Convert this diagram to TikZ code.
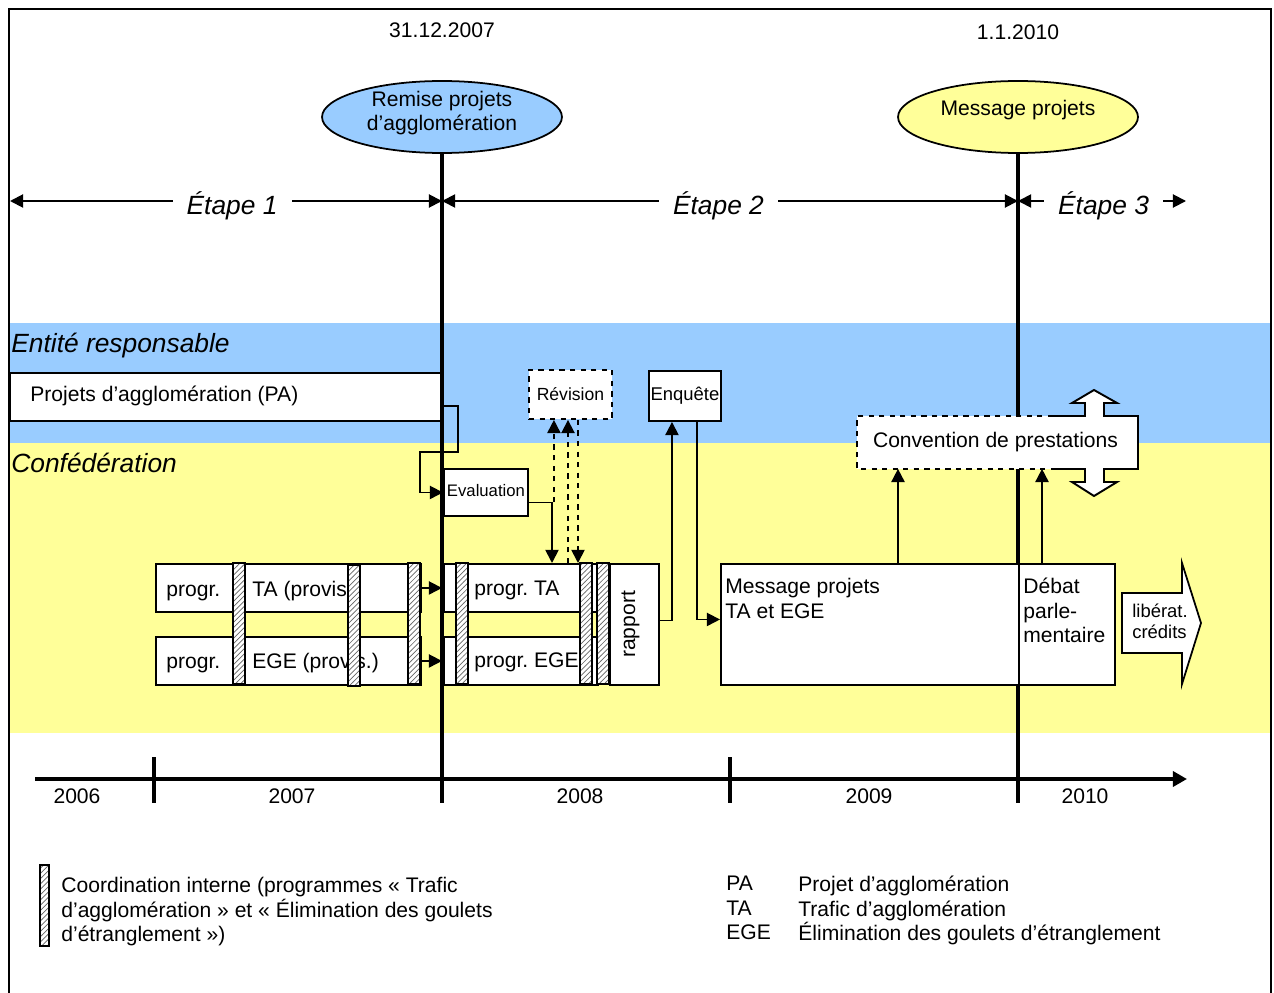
\documentclass[tikz,border=0pt]{standalone}
\usepackage{fontspec}
\setmainfont{Liberation Sans}
\frenchspacing
\usepackage{tikz}
\usetikzlibrary{arrows.meta}
\usetikzlibrary{shapes}
\usetikzlibrary{patterns}
\usetikzlibrary{calc}
\definecolor{bandblue}{RGB}{153,204,255}
\definecolor{bandyellow}{RGB}{255,255,153}
\newcommand\pxl{0.02cm}
\newcommand\boxpx[7][]{
  \node[prbox, #1, minimum width=#5*\pxl, minimum height=#6*\pxl, anchor=north west] (#2) at (#3,#4) {#7};
}
\newcommand\hatchbar[4]{
  \draw[hbar] (#1,#2) rectangle (#3,#4);
}

\begin{document}
\begin{tikzpicture}[x=0.02cm, y=-0.02cm, font=\fontsize{12}{13.9}\selectfont,
  >={Triangle[length=7.5pt,width=7.5pt]},
  prbox/.style={draw, fill=white, line width=1.1pt, inner sep=0pt},
  hbar/.style={preaction={fill=white}, pattern=north east lines, pattern color=black!60, line width=1pt},
  link/.style={line width=1pt},
  stage/.style={line width=1.1pt},
  mline/.style={line width=1.8pt},
  mstone/.style={ellipse, draw, line width=1pt, minimum width=4.8cm, minimum height=1.44cm, inner sep=0pt},
  etape/.style={fill=white, font=\fontsize{15}{18}\selectfont\itshape, inner xsep=8pt, inner ysep=1pt, yshift=-2.5pt},
  band/.style={anchor=base west, inner sep=0pt, font=\fontsize{15}{18}\selectfont\itshape},
  txt/.style={anchor=base west, inner sep=0pt},
  txtblock/.style={anchor=north west, align=left, inner sep=0pt}]
\useasboundingbox (0,0) rectangle (1274,993);

% bandes
\fill[bandblue] (9,323) rectangle (1271,443);
\fill[bandyellow] (9,443) rectangle (1271,733);
\draw[line width=1.1pt] (9,1000) -- (9,9) -- (1271,9) -- (1271,1000);

% jalons
\node[mstone, fill=bandblue] (remise) at (442,117) {};
\node[align=center] (remisetxt) at (442,113) {Remise projets\\d’agglomération};
\node[mstone, fill=bandyellow] (msgell) at (1018,117) {};
\node (msgelltxt) at (1018,110) {Message projets};
\node (d2007) at (442,30) {31.12.2007};
\node (d2010) at (1018,32) {1.1.2010};
\coordinate (t2007) at (442,803);
\coordinate (t2010) at (1018,803);
\draw[mline] (msgell.south) -- (t2010);

% etapes
\coordinate (s0) at (10,201);
\coordinate (s1) at (442,201);
\coordinate (s2) at (1018,201);
\coordinate (s3) at (1186,201);
\draw[stage,<->] (s0) -- node[etape,pos=.514] (et1) {Étape 1} (s1);
\draw[stage,<->] (s1) -- node[etape,pos=.48] (et2) {Étape 2} (s2);
\draw[stage,<->] (s2) -- node[etape,pos=.509] (et3) {Étape 3} (s3);

\node[band] (entite) at (11,352) {Entité responsable};
\node[band] (confed) at (11,472) {Confédération};

% boites
\boxpx{pa}{9}{372}{433}{48}{}
\node[txt] (patxt) at (30,401) {Projets d’agglomération (PA)};
\boxpx{eval}{443}{468}{84}{47}{\raisebox{2pt}{\fontsize{9.5}{11}\selectfont Evaluation}}
\boxpx[dashed]{revision}{528}{369}{83}{49}{\fontsize{10}{12}\selectfont Révision}
\boxpx{enquete}{648}{370}{72}{50}{\fontsize{10.5}{12}\selectfont Enquête}

\boxpx{ta7}{155}{563}{265}{48}{}
\boxpx{ege7}{155}{636}{265}{48}{}
\node[txt] (ta7a) at (166,596) {progr.};
\node[txt] (ta7b) at (252,596) {TA (provis};
\node[txt] (ege7a) at (166,668) {progr.};
\node[txt] (ege7b) at (252,668) {EGE (provis.)};
\hatchbar{233}{563}{245}{684}
\hatchbar{348}{565}{360}{686}
\hatchbar{408}{563}{420}{684}
\draw[link,->] (ta7.east) -- (ta7.east -| t2007);
\draw[link,->] (ege7.east) -- (ege7.east -| t2007);

\boxpx{ta8}{443}{563}{154}{48}{}
\boxpx{ege8}{443}{636}{154}{48}{}
\node[txt] (ta8txt) at (474,595) {progr. TA};
\node[txt] (ege8txt) at (474,667) {progr. EGE};
\hatchbar{456}{563}{468}{684}
\hatchbar{580}{563}{592}{684}
\hatchbar{597}{563}{609}{684}
\boxpx{rapport}{609}{563}{49}{121}{}
\node[rotate=90] (rapptxt) at ($(rapport.center)+(-4,0)$) {rapport};

\boxpx{msg}{720}{563}{298}{121}{}
\boxpx{debat}{1018}{563}{96}{121}{}
\node[txtblock] (msgtxt) at (725,578) {Message projets\\TA et EGE};
\node[txtblock] (debattxt) at (1023,578) {Débat\\parle-\\mentaire};

\draw[mline] (remise.south) -- (t2007);

% convention
\draw[line width=1.1pt, fill=white] (1053,416) -- (1085,416) -- (1085,403) -- (1072,403) -- (1094,390) -- (1117,403) -- (1104,403) -- (1104,416) -- (1138,416) -- (1138,469) -- (1104,469) -- (1104,482) -- (1117,482) -- (1094,496) -- (1072,482) -- (1085,482) -- (1085,469) -- (1053,469);
\draw[line width=1.1pt, dashed, fill=white] (1053,416) -- (857,416) -- (857,469) -- (1053,469);
\node[minimum width=281*\pxl, minimum height=53*\pxl, inner sep=0pt] (conv) at (995.5,442) {Convention de prestations};

\draw[line width=1pt, fill=white] (1122,593) -- (1182,593) -- (1182,563) -- (1201,623) -- (1182,684) -- (1182,653) -- (1122,653) -- cycle;
\node[align=left, font=\fontsize{10.5}{12}\selectfont] (liberat) at (1160,621) {libérat.\\crédits};

% liaisons
\draw[link,->] ($(pa.east)+(0,9)$) -- ++(14,0) -- ++(0,46) -- ++(-38,0) |- (eval.west);
\draw[link,->] ($(eval.east)+(0,10)$) -| ($(ta8.north west)+(109,0)$);
\draw[link,dashed,->] ($(eval.east)+(25,10)$) coordinate (r1) -- (r1 |- revision.south);
\draw[link,dashed,->] ($(ta8.north west)+(125,0)$) coordinate (r2) -- (r2 |- revision.south);
\draw[link,dashed,->] ($(revision.south west)+(50,0)$) coordinate (r3) -- (r3 |- ta8.north);
\draw[link,->] ($(rapport.east)+(0,-4)$) -| ($(enquete.south)+(-13,0)$);
\draw[link,->] ($(enquete.south)+(12,0)$) |- ($(msg.west)+(0,-5)$);
\draw[link,->] ($(msg.north west)+(178,0)$) coordinate (m1) -- (m1 |- conv.south);
\draw[link,->] ($(debat.north west)+(24,0)$) coordinate (m2) -- (m2 |- conv.south);

% axe du temps
\coordinate (y0) at (35,779);
\coordinate (y1) at (1187,779);
\draw[line width=2.6pt, -{Triangle[length=8pt,width=8.5pt]}] (y0) -- (y1);
\foreach \x in {154,730}
  \draw[mline] (\x,757) -- (\x,803);
\foreach \x/\yr in {77/2006, 292/2007, 580/2008, 869/2009, 1085/2010}
  \node (yr\yr) at (\x,796) {\yr};

% legende
\hatchbar{40}{865}{49}{946}
\node[txtblock] (legend) at (61,877) {Coordination interne (programmes « Trafic\\d’agglomération » et « Élimination des goulets\\d’étranglement »)};
\node[txtblock] (abbr) at (726,876) {PA\\TA\\EGE};
\node[txtblock] (abbrdef) at (798,876) {Projet d’agglomération\\Trafic d’agglomération\\Élimination des goulets d’étranglement};
\end{tikzpicture}
\end{document}
